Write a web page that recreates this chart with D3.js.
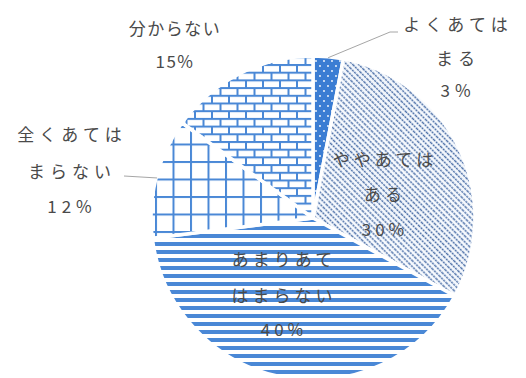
<!DOCTYPE html>
<html>
<head>
<meta charset="utf-8">
<script src="https://cdn.jsdelivr.net/npm/d3@7"></script>
<style>
  html, body { margin: 0; padding: 0; background: #fff; }
  svg { display: block; }
  text { font-family: "Noto Sans CJK JP", "Noto Sans", sans-serif; fill: #4a4a4a; }
</style>
</head>
<body>
<svg id="chart" width="526" height="378"></svg>
<script>
// Survey answers, in clockwise order from 12 o'clock
const categories = ["よくあてはまる", "ややあてはある", "あまりあてはまらない", "全くあてはまらない", "分からない"];
const values = [3, 30, 40, 12, 15];
// Label text, broken into lines as printed
const labelLines = [
  ["よくあては", "まる", "3%"],
  ["ややあては", "ある", "30%"],
  ["あまりあて", "はまらない", "40%"],
  ["全くあては", "まらない", "12%"],
  ["分からない", "15%"]
];

// Layout
const W = 526, H = 378;
const cx = 313, cy = 218, R = 162;
const labelLayout = [
  { x: 458, y: [23, 57, 89], spacing: 5, leader: [[390, 32], [398, 32]] },
  { x: 385, y: [158, 193, 228], spacing: 4 },
  { x: 284, y: [258, 294, 328], spacing: 4 },
  { x: 72,  y: [133, 170, 205], spacing: 5, leader: [[124, 176]] },
  { x: 175, y: [27, 60], spacing: 1.5 }
];
const fills = ["url(#pDots)", "url(#pDiag)", "url(#pStripe)", "url(#pGrid)", "url(#pBrick)"];

const svg = d3.select("#chart");
const defs = svg.append("defs");
const blue = "#4a88d6";

// Solid blue with sparse white dots
const pDots = defs.append("pattern").attr("id", "pDots")
  .attr("patternUnits", "userSpaceOnUse").attr("width", 8).attr("height", 10);
pDots.append("rect").attr("width", 8).attr("height", 10).attr("fill", "#3b7dd3");
pDots.append("circle").attr("cx", 3).attr("cy", 3).attr("r", 0.9).attr("fill", "#fff");
pDots.append("circle").attr("cx", 7).attr("cy", 8).attr("r", 0.9).attr("fill", "#fff");

// Fine downward diagonal hatching
const pDiag = defs.append("pattern").attr("id", "pDiag")
  .attr("patternUnits", "userSpaceOnUse").attr("width", 10).attr("height", 4.2)
  .attr("patternTransform", "rotate(45)");
pDiag.append("rect").attr("width", 10).attr("height", 4.2).attr("fill", "#f7fafe");
pDiag.append("line").attr("x1", 0).attr("x2", 10).attr("y1", 2).attr("y2", 2)
  .attr("stroke", "#5274aa").attr("stroke-width", 1.6).attr("stroke-dasharray", "2.2 0.8");

// Wide horizontal stripes
const pStripe = defs.append("pattern").attr("id", "pStripe")
  .attr("patternUnits", "userSpaceOnUse").attr("width", 10).attr("height", 8);
pStripe.append("rect").attr("width", 10).attr("height", 8).attr("fill", "#fff");
pStripe.append("rect").attr("y", 0).attr("width", 10).attr("height", 4).attr("fill", blue);

// Large grid
const g = 17.5;
const pGrid = defs.append("pattern").attr("id", "pGrid")
  .attr("patternUnits", "userSpaceOnUse").attr("width", g).attr("height", g)
  .attr("x", 17).attr("y", 13);
pGrid.append("rect").attr("width", g).attr("height", g).attr("fill", "#fff");
pGrid.append("rect").attr("x", 0).attr("y", 0).attr("width", 2).attr("height", g).attr("fill", blue);
pGrid.append("rect").attr("x", 0).attr("y", 0).attr("width", g).attr("height", 2).attr("fill", blue);

// Brick wall
const bw = 17, bh = 7.7;
const pBrick = defs.append("pattern").attr("id", "pBrick")
  .attr("patternUnits", "userSpaceOnUse").attr("width", bw).attr("height", bh * 2);
pBrick.append("rect").attr("width", bw).attr("height", bh * 2).attr("fill", "#fff");
pBrick.append("rect").attr("x", 0).attr("y", 0).attr("width", bw).attr("height", 2).attr("fill", blue);
pBrick.append("rect").attr("x", 0).attr("y", bh).attr("width", bw).attr("height", 2).attr("fill", blue);
pBrick.append("rect").attr("x", 0).attr("y", 0).attr("width", 2).attr("height", bh).attr("fill", blue);
pBrick.append("rect").attr("x", bw / 2).attr("y", bh).attr("width", 2).attr("height", bh).attr("fill", blue);

// Pie
const pie = d3.pie().sort(null).value(d => d);
const arcs = pie(values);
const arc = d3.arc().innerRadius(0).outerRadius(R);

const gPie = svg.append("g").attr("transform", `translate(${cx},${cy})`);
gPie.selectAll("path").data(arcs).join("path")
  .attr("d", arc)
  .attr("fill", (d, i) => fills[i])
  .attr("stroke", "#fff")
  .attr("stroke-width", 3.5)
  .attr("stroke-linejoin", "round");

// Leader lines for the two outside labels
const edgeArc = d3.arc().innerRadius(R - 1).outerRadius(R - 1);
arcs.forEach((d, i) => {
  const lay = labelLayout[i];
  if (!lay.leader) return;
  const c = edgeArc.centroid(d);
  const pts = [[cx + c[0], cy + c[1]], ...lay.leader];
  svg.append("path")
    .attr("d", d3.line()(pts))
    .attr("fill", "none")
    .attr("stroke", "#a6a6a6")
    .attr("stroke-width", 1);
});

// Labels
labelLines.forEach((lines, i) => {
  const lay = labelLayout[i];
  lines.forEach((t, k) => {
    svg.append("text")
      .attr("x", lay.x)
      .attr("y", lay.y[k])
      .attr("text-anchor", "middle")
      .attr("dominant-baseline", "central")
      .attr("font-size", 17)
      .attr("letter-spacing", lay.spacing)
      .text(t);
  });
});
</script>
</body>
</html>
